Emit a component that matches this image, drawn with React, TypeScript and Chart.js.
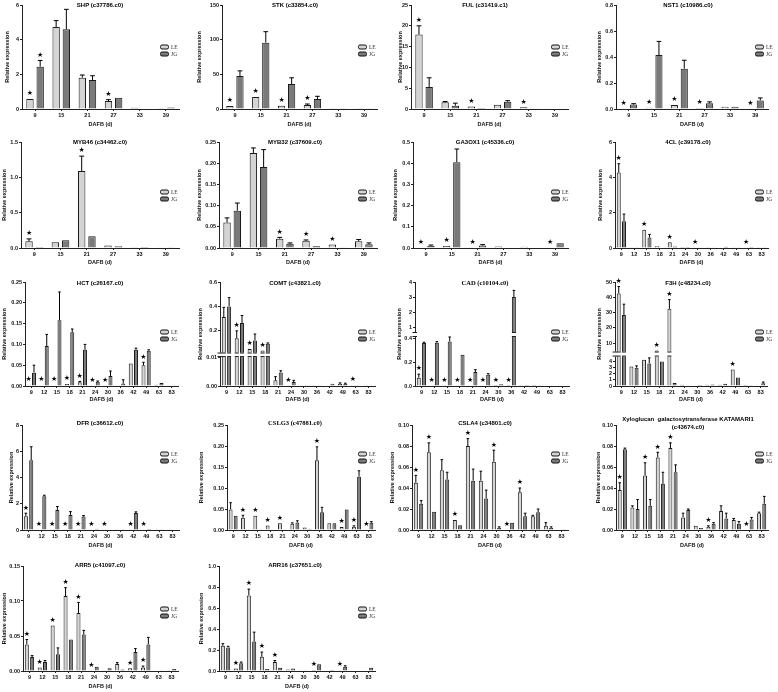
import React, { useEffect, useRef } from 'react';
import { Chart, registerables } from 'chart.js';
Chart.register(...registerables);

// ---------- categories ----------
const DAYS6 = ['9', '15', '21', '27', '33', '39'];
const DAYS12 = ['9', '12', '15', '18', '21', '24', '30', '36', '42', '49', '63', '83'];
const NO_STAR6 = [0, 0, 0, 0, 0, 0];
const NO_STAR12 = [0, 0, 0, 0, 0, 0, 0, 0, 0, 0, 0, 0];

// ---------- SHP ----------
const SHP_LE = [0.58, 4.73, 1.81, 0.46, 0.07, 0.04];
const SHP_LE_SD = [0.04, 0.37, 0.15, 0.08, 0.01, 0.01];
const SHP_JG = [2.44, 4.6, 1.67, 0.65, 0.03, 0.08];
const SHP_JG_SD = [0.36, 1.15, 0.25, 0.04, 0.01, 0.01];
const SHP_LE_STAR = [1, 0, 0, 1, 0, 0];
const SHP_JG_STAR = [1, 0, 0, 0, 0, 0];
const SHP_TICKS = [0, 2, 4, 6];
const SHP_TICK_LABELS = ['0', '2', '4', '6'];

// ---------- STK ----------
const STK_LE = [4.3, 17.3, 4.8, 5.8, 1.0, 0.5];
const STK_LE_SD = [1.0, 1.0, 1.0, 1.4, 0.2, 0.1];
const STK_JG = [47.6, 95.7, 36, 14.4, 0.5, 0.5];
const STK_JG_SD = [7.4, 15.8, 9, 3.9, 0.1, 0.1];
const STK_LE_STAR = [1, 1, 1, 1, 0, 0];
const STK_TICKS = [0, 50, 100, 150];
const STK_TICK_LABELS = ['0', '50', '100', '150'];

// ---------- FUL ----------
const FUL_LE = [17.9, 1.6, 0.6, 1.05, 0.4, 0.05];
const FUL_LE_SD = [2.1, 0.2, 0.1, 0.15, 0.15, 0.01];
const FUL_JG = [5.3, 0.8, 0.25, 1.75, 0.05, 0.15];
const FUL_JG_SD = [2.2, 0.6, 0.05, 0.25, 0.01, 0.03];
const FUL_LE_STAR = [1, 0, 1, 0, 1, 0];
const FUL_TICKS = [0, 5, 10, 15, 20, 25];
const FUL_TICK_LABELS = ['0', '5', '10', '15', '20', '25'];

// ---------- NST1 ----------
const NST1_LE = [0.003, 0.01, 0.03, 0.008, 0.018, 0.003];
const NST1_LE_SD = [0.001, 0.004, 0.002, 0.002, 0.003, 0.001];
const NST1_JG = [0.034, 0.415, 0.31, 0.045, 0.018, 0.065];
const NST1_JG_SD = [0.007, 0.105, 0.065, 0.01, 0.002, 0.02];
const NST1_LE_STAR = [1, 1, 1, 1, 0, 1];
const NST1_TICKS = [0, 0.2, 0.4, 0.6, 0.8];
const NST1_TICK_LABELS = ['0.0', '0.2', '0.4', '0.6', '0.8'];

// ---------- MYB46 ----------
const MYB46_LE = [0.094, 0.08, 1.09, 0.035, 0.01, 0.003];
const MYB46_LE_SD = [0.035, 0.01, 0.21, 0.005, 0.002, 0.001];
const MYB46_JG = [0.015, 0.11, 0.165, 0.025, 0.015, 0.005];
const MYB46_JG_SD = [0.003, 0.01, 0.008, 0.004, 0.003, 0.001];
const MYB46_LE_STAR = [1, 0, 1, 0, 0, 0];
const MYB46_TICKS = [0, 0.5, 1.0, 1.5];
const MYB46_TICK_LABELS = ['0.0', '0.5', '1.0', '1.5'];

// ---------- MYB32 ----------
const MYB32_LE = [0.06, 0.224, 0.022, 0.017, 0.008, 0.016];
const MYB32_LE_SD = [0.011, 0.012, 0.003, 0.002, 0.001, 0.004];
const MYB32_JG = [0.088, 0.191, 0.01, 0.004, 0.0005, 0.009];
const MYB32_JG_SD = [0.018, 0.041, 0.002, 0.001, 0, 0.003];
const MYB32_LE_STAR = [0, 0, 1, 1, 1, 0];
const MYB32_TICKS = [0, 0.05, 0.1, 0.15, 0.2, 0.25];
const MYB32_TICK_LABELS = ['0.00', '0.05', '0.10', '0.15', '0.20', '0.25'];

// ---------- GA3OX1 ----------
const GA3_LE = [0.002, 0.01, 0.002, 0.007, 0.006, 0.002];
const GA3_LE_SD = [0.001, 0.003, 0.001, 0.002, 0.002, 0.001];
const GA3_JG = [0.01, 0.405, 0.012, 0.002, 0.002, 0.022];
const GA3_JG_SD = [0.004, 0.062, 0.004, 0.001, 0.001, 0.003];
const GA3_LE_STAR = [1, 1, 1, 0, 0, 1];
const GA3_TICKS = [0, 0.1, 0.2, 0.3, 0.4, 0.5];
const GA3_TICK_LABELS = ['0.0', '0.1', '0.2', '0.3', '0.4', '0.5'];

// ---------- 4CL ----------
const CL4_LE = [4.27, 0.02, 1.03, 0.1, 0.32, 0.06, 0.03, 0.02, 0.03, 0.02, 0.01, 0.04];
const CL4_LE_SD = [0.5, 0.01, 0.03, 0.02, 0.03, 0.01, 0.01, 0.01, 0.01, 0.01, 0.01, 0.01];
const CL4_JG = [1.52, 0.04, 0.59, 0.03, 0.08, 0.06, 0.01, 0.01, 0.07, 0.02, 0.05, 0.02];
const CL4_JG_SD = [0.4, 0.01, 0.18, 0.01, 0.03, 0.01, 0.005, 0.005, 0.03, 0.005, 0.01, 0.005];
const CL4_LE_STAR = [1, 0, 1, 0, 1, 0, 1, 0, 0, 0, 1, 0];
const CL4_TICKS = [0, 2, 4, 6];
const CL4_TICK_LABELS = ['0', '2', '4', '6'];

// ---------- HCT ----------
const HCT_LE = [0.002, 0.002, 0.002, 0.005, 0.009, 0.0005, 0.0005, 0.001, 0.054, 0.05, 0.003, 0.001];
const HCT_LE_SD = [0.001, 0.001, 0.001, 0.001, 0.002, 0, 0, 0.001, 0, 0.007, 0.001, 0.001];
const HCT_JG = [0.032, 0.096, 0.158, 0.129, 0.087, 0.01, 0.024, 0.006, 0.087, 0.085, 0.007, 0.002];
const HCT_JG_SD = [0.018, 0.028, 0.068, 0.008, 0.013, 0.002, 0.012, 0.009, 0.004, 0.002, 0.001, 0.001];
const HCT_LE_STAR = [1, 1, 1, 1, 1, 1, 1, 0, 0, 1, 0, 0];
const HCT_TICKS = [0, 0.05, 0.1, 0.15, 0.2, 0.25];
const HCT_TICK_LABELS = ['0.00', '0.05', '0.10', '0.15', '0.20', '0.25'];

// ---------- COMT (broken axis) ----------
const COMT_LE = [0.312, 0.139, 0.05, 0.037, 0.002, 0.0001, 0.0002, 0.0001, 0.0002, 0.0007, 0.0003, 0.0001];
const COMT_LE_SD = [0.08, 0.06, 0.004, 0.002, 0.0013, 0, 0, 0, 0, 0.0004, 0, 0];
const COMT_JG = [0.4, 0.264, 0.12, 0.093, 0.0048, 0.0014, 0.0001, 0.0002, 0.0008, 0.0007, 0.0001, 0];
const COMT_JG_SD = [0.072, 0.061, 0.053, 0.007, 0.0006, 0.0006, 0, 0, 0.0002, 0.0003, 0, 0];
const COMT_LE_STAR = [0, 1, 1, 1, 0, 1, 0, 0, 0, 0, 1, 0];
const COMT_TICKS = [0, 0.01, 0.2, 0.4, 0.6];
const COMT_TICK_LABELS = ['0.00', '0.01', '0.2', '0.4', '0.6'];

// ---------- CAD (broken axis) ----------
const CAD_LE = [0.07, 0.002, 0.003, 0.002, 0.002, 0.002, 0.001, 0.001, 0.003, 0.001, 0, 0];
const CAD_LE_SD = [0.03, 0.001, 0.001, 0.001, 0.001, 0.001, 0, 0, 0.001, 0, 0, 0];
const CAD_JG = [0.363, 0.366, 0.377, 0.265, 0.118, 0.096, 0.015, 3.0, 0.001, 0.006, 0, 0];
const CAD_JG_SD = [0.007, 0.009, 0.037, 0.005, 0.02, 0.008, 0.005, 0.44, 0, 0.002, 0, 0];
const CAD_LE_STAR = [1, 1, 1, 1, 1, 1, 1, 1, 0, 0, 0, 0];
const CAD_TICKS = [0, 0.2, 0.4, 1, 2, 3, 4];
const CAD_TICK_LABELS = ['0.0', '0.2', '0.4', '1', '2', '3', '4'];

// ---------- F3H (broken axis) ----------
const F3H_LE = [42.5, 3.2, 4.3, 5.2, 32.5, 0.2, 0.1, 0.2, 0.2, 2.7, 0.02, 0.1];
const F3H_LE_SD = [4.5, 0.1, 0.1, 0, 6, 0.05, 0.03, 0.1, 0.05, 0.1, 0, 0.03];
const F3H_JG = [28.5, 3.0, 3.7, 4.0, 0.5, 0.1, 0.15, 0.25, 0.35, 1.4, 0.05, 0.45];
const F3H_JG_SD = [7, 0.3, 0.9, 0.1, 0.1, 0.02, 0.03, 0.05, 0.1, 0.1, 0.01, 0.2];
const F3H_LE_STAR = [1, 0, 0, 1, 1, 0, 0, 0, 0, 1, 0, 0];
const F3H_TICKS = [0, 1, 2, 3, 4, 10, 20, 30, 40, 50];
const F3H_TICK_LABELS = ['0', '1', '2', '3', '4', '10', '20', '30', '40', '50'];

// ---------- DFR ----------
const DFR_LE = [1.05, 0.03, 0.06, 0.02, 0.02, 0.01, 0.01, 0.02, 0.02, 0.01, 0.02, 0.05];
const DFR_LE_SD = [0.23, 0.01, 0.01, 0.01, 0.01, 0, 0, 0.01, 0.01, 0, 0.01, 0.02];
const DFR_JG = [5.32, 2.58, 1.53, 1.15, 1.02, 0.1, 0.03, 0.02, 1.3, 0.08, 0.02, 0.03];
const DFR_JG_SD = [1.02, 0.07, 0.26, 0.25, 0.08, 0.02, 0.01, 0.01, 0.08, 0.02, 0.01, 0.01];
const DFR_LE_STAR = [1, 1, 1, 1, 1, 1, 1, 0, 1, 1, 0, 0];
const DFR_TICKS = [0, 2, 4, 6, 8];
const DFR_TICK_LABELS = ['0', '2', '4', '6', '8'];

// ---------- CSLG3 ----------
const CSLG3_LE = [0.049, 0.029, 0.034, 0.011, 0.016, 0.015, 0.006, 0.166, 0.016, 0.007, 0.008, 0.001];
const CSLG3_LE_SD = [0.016, 0.006, 0.001, 0.001, 0.001, 0.002, 0.001, 0.032, 0.001, 0.001, 0.002, 0];
const CSLG3_JG = [0.034, 0.0005, 0.002, 0.001, 0.002, 0.018, 0.003, 0.042, 0.016, 0.049, 0.127, 0.017];
const CSLG3_JG_SD = [0.001, 0, 0, 0, 0, 0.004, 0, 0.012, 0.001, 0.001, 0.014, 0.003];
const CSLG3_LE_STAR = [0, 1, 1, 1, 1, 0, 0, 1, 0, 1, 1, 1];
const CSLG3_TICKS = [0, 0.05, 0.1, 0.15, 0.2, 0.25];
const CSLG3_TICK_LABELS = ['0.00', '0.05', '0.10', '0.15', '0.20', '0.25'];

// ---------- CSLA4 ----------
const CSLA4_LE = [0.045, 0.074, 0.057, 0.0095, 0.08, 0.047, 0.065, 0.0005, 0.036, 0.013, 0.004, 0.0005];
const CSLA4_LE_SD = [0.007, 0.009, 0.01, 0.0003, 0.007, 0.009, 0.011, 0, 0.004, 0.001, 0.003, 0];
const CSLA4_JG = [0.025, 0.0175, 0.048, 0.0045, 0.047, 0.03, 0.002, 0.007, 0.013, 0.017, 0.002, 0.0003];
const CSLA4_JG_SD = [0.003, 0.0005, 0.007, 0.0005, 0.011, 0.008, 0.001, 0.0005, 0.003, 0.003, 0.001, 0];
const CSLA4_LE_STAR = [1, 1, 0, 1, 1, 0, 1, 1, 1, 0, 0, 0];
const CSLA4_TICKS = [0, 0.02, 0.04, 0.06, 0.08, 0.1];
const CSLA4_TICK_LABELS = ['0.00', '0.02', '0.04', '0.06', '0.08', '0.10'];

// ---------- Xyloglucan galactosytransferase KATAMARI1 ----------
const XYL_LE = [0.038, 0.0215, 0.052, 0.069, 0.078, 0.012, 0.004, 0.003, 0.018, 0.0095, 0.0005, 0.016];
const XYL_LE_SD = [0.007, 0.0015, 0.012, 0.005, 0.005, 0.004, 0.0005, 0.001, 0.005, 0.0015, 0, 0.001];
const XYL_JG = [0.077, 0.02, 0.023, 0.044, 0.055, 0.019, 0.002, 0.006, 0.011, 0.006, 0.01, 0.025];
const XYL_JG_SD = [0.001, 0.009, 0.006, 0.011, 0.007, 0.001, 0.0005, 0.001, 0.005, 0.002, 0.002, 0.007];
const XYL_LE_STAR = [1, 0, 1, 1, 1, 0, 0, 1, 0, 0, 1, 0];
const XYL_TICKS = [0, 0.02, 0.04, 0.06, 0.08, 0.1];
const XYL_TICK_LABELS = ['0.00', '0.02', '0.04', '0.06', '0.08', '0.10'];

// ---------- ARR5 ----------
const ARR5_LE = [0.038, 0.005, 0.065, 0.107, 0.083, 0.001, 0.001, 0.01, 0.004, 0.005, 0, 0.001];
const ARR5_LE_SD = [0.007, 0.001, 0.001, 0.012, 0.015, 0, 0, 0.002, 0.001, 0.002, 0, 0];
const ARR5_JG = [0.02, 0.013, 0.024, 0.045, 0.052, 0.006, 0.004, 0.002, 0.027, 0.038, 0.001, 0.003];
const ARR5_JG_SD = [0.002, 0.002, 0.009, 0.001, 0.006, 0.001, 0.001, 0, 0.005, 0.01, 0, 0.001];
const ARR5_LE_STAR = [1, 1, 1, 1, 1, 1, 0, 0, 1, 1, 0, 0];
const ARR5_TICKS = [0, 0.05, 0.1, 0.15];
const ARR5_TICK_LABELS = ['0.00', '0.05', '0.10', '0.15'];

// ---------- ARR16 ----------
const ARR16_LE = [0.24, 0.025, 0.72, 0.135, 0.085, 0.015, 0.003, 0.01, 0.005, 0.008, 0, 0.005];
const ARR16_LE_SD = [0.02, 0.005, 0.06, 0.045, 0.015, 0.002, 0, 0.002, 0, 0.002, 0, 0];
const ARR16_JG = [0.225, 0.075, 0.28, 0.02, 0.03, 0.025, 0.003, 0.065, 0.001, 0.04, 0, 0.03];
const ARR16_JG_SD = [0.01, 0.01, 0.09, 0.002, 0.005, 0.005, 0, 0.005, 0, 0.01, 0, 0.005];
const ARR16_LE_STAR = [0, 1, 1, 1, 1, 0, 0, 1, 0, 1, 0, 0];
const ARR16_TICKS = [0, 0.2, 0.4, 0.6, 0.8, 1.0];
const ARR16_TICK_LABELS = ['0.0', '0.2', '0.4', '0.6', '0.8', '1.0'];

// ---------- broken-axis transforms ----------
type Brk = { lowMax: number; lowK: number; upB: number; upK: number; gapLo: number; gapHi: number };
const COMT_BRK: Brk = { lowMax: 0.01, lowK: 8700, upB: 95, upK: 375, gapLo: 89, gapHi: 103 };
const CAD_BRK: Brk = { lowMax: 0.42, lowK: 355, upB: 132, upK: 45, gapLo: 147, gapHi: 162 };
const F3H_BRK: Brk = { lowMax: 4.8, lowK: 18.25, upB: 82, upK: 4.575, gapLo: 88, gapHi: 103 };

type Spec = {
  title: string[]; serif?: boolean; cats: string[];
  le: number[]; leSd: number[]; jg: number[]; jgSd: number[];
  leStar: number[]; jgStar: number[]; ticks: number[]; tickLabels: string[]; brk?: Brk;
};

const SPECS: Spec[] = [
  { title: ['SHP (c37786.c0)'], cats: DAYS6, le: SHP_LE, leSd: SHP_LE_SD, jg: SHP_JG, jgSd: SHP_JG_SD, leStar: SHP_LE_STAR, jgStar: SHP_JG_STAR, ticks: SHP_TICKS, tickLabels: SHP_TICK_LABELS },
  { title: ['STK (c33854.c0)'], cats: DAYS6, le: STK_LE, leSd: STK_LE_SD, jg: STK_JG, jgSd: STK_JG_SD, leStar: STK_LE_STAR, jgStar: NO_STAR6, ticks: STK_TICKS, tickLabels: STK_TICK_LABELS },
  { title: ['FUL (c31419.c1)'], cats: DAYS6, le: FUL_LE, leSd: FUL_LE_SD, jg: FUL_JG, jgSd: FUL_JG_SD, leStar: FUL_LE_STAR, jgStar: NO_STAR6, ticks: FUL_TICKS, tickLabels: FUL_TICK_LABELS },
  { title: ['NST1 (c10986.c0)'], cats: DAYS6, le: NST1_LE, leSd: NST1_LE_SD, jg: NST1_JG, jgSd: NST1_JG_SD, leStar: NST1_LE_STAR, jgStar: NO_STAR6, ticks: NST1_TICKS, tickLabels: NST1_TICK_LABELS },
  { title: ['MYB46 (c34462.c0)'], cats: DAYS6, le: MYB46_LE, leSd: MYB46_LE_SD, jg: MYB46_JG, jgSd: MYB46_JG_SD, leStar: MYB46_LE_STAR, jgStar: NO_STAR6, ticks: MYB46_TICKS, tickLabels: MYB46_TICK_LABELS },
  { title: ['MYB32 (c37609.c0)'], cats: DAYS6, le: MYB32_LE, leSd: MYB32_LE_SD, jg: MYB32_JG, jgSd: MYB32_JG_SD, leStar: MYB32_LE_STAR, jgStar: NO_STAR6, ticks: MYB32_TICKS, tickLabels: MYB32_TICK_LABELS },
  { title: ['GA3OX1 (c45336.c0)'], cats: DAYS6, le: GA3_LE, leSd: GA3_LE_SD, jg: GA3_JG, jgSd: GA3_JG_SD, leStar: GA3_LE_STAR, jgStar: NO_STAR6, ticks: GA3_TICKS, tickLabels: GA3_TICK_LABELS },
  { title: ['4CL (c39178.c0)'], cats: DAYS12, le: CL4_LE, leSd: CL4_LE_SD, jg: CL4_JG, jgSd: CL4_JG_SD, leStar: CL4_LE_STAR, jgStar: NO_STAR12, ticks: CL4_TICKS, tickLabels: CL4_TICK_LABELS },
  { title: ['HCT (c26167.c0)'], cats: DAYS12, le: HCT_LE, leSd: HCT_LE_SD, jg: HCT_JG, jgSd: HCT_JG_SD, leStar: HCT_LE_STAR, jgStar: NO_STAR12, ticks: HCT_TICKS, tickLabels: HCT_TICK_LABELS },
  { title: ['COMT (c43821.c0)'], cats: DAYS12, le: COMT_LE, leSd: COMT_LE_SD, jg: COMT_JG, jgSd: COMT_JG_SD, leStar: COMT_LE_STAR, jgStar: NO_STAR12, ticks: COMT_TICKS, tickLabels: COMT_TICK_LABELS, brk: COMT_BRK },
  { title: ['CAD (c10104.c0)'], serif: true, cats: DAYS12, le: CAD_LE, leSd: CAD_LE_SD, jg: CAD_JG, jgSd: CAD_JG_SD, leStar: CAD_LE_STAR, jgStar: NO_STAR12, ticks: CAD_TICKS, tickLabels: CAD_TICK_LABELS, brk: CAD_BRK },
  { title: ['F3H (c48234.c0)'], cats: DAYS12, le: F3H_LE, leSd: F3H_LE_SD, jg: F3H_JG, jgSd: F3H_JG_SD, leStar: F3H_LE_STAR, jgStar: NO_STAR12, ticks: F3H_TICKS, tickLabels: F3H_TICK_LABELS, brk: F3H_BRK },
  { title: ['DFR (c36612.c0)'], cats: DAYS12, le: DFR_LE, leSd: DFR_LE_SD, jg: DFR_JG, jgSd: DFR_JG_SD, leStar: DFR_LE_STAR, jgStar: NO_STAR12, ticks: DFR_TICKS, tickLabels: DFR_TICK_LABELS },
  { title: ['CSLG3 (c47881.c0)'], serif: true, cats: DAYS12, le: CSLG3_LE, leSd: CSLG3_LE_SD, jg: CSLG3_JG, jgSd: CSLG3_JG_SD, leStar: CSLG3_LE_STAR, jgStar: NO_STAR12, ticks: CSLG3_TICKS, tickLabels: CSLG3_TICK_LABELS },
  { title: ['CSLA4 (c34801.c0)'], cats: DAYS12, le: CSLA4_LE, leSd: CSLA4_LE_SD, jg: CSLA4_JG, jgSd: CSLA4_JG_SD, leStar: CSLA4_LE_STAR, jgStar: NO_STAR12, ticks: CSLA4_TICKS, tickLabels: CSLA4_TICK_LABELS },
  { title: ['Xyloglucan  galactosytransferase KATAMARI1', '(c43674.c0)'], cats: DAYS12, le: XYL_LE, leSd: XYL_LE_SD, jg: XYL_JG, jgSd: XYL_JG_SD, leStar: XYL_LE_STAR, jgStar: NO_STAR12, ticks: XYL_TICKS, tickLabels: XYL_TICK_LABELS },
  { title: ['ARR5 (c41097.c0)'], cats: DAYS12, le: ARR5_LE, leSd: ARR5_LE_SD, jg: ARR5_JG, jgSd: ARR5_JG_SD, leStar: ARR5_LE_STAR, jgStar: NO_STAR12, ticks: ARR5_TICKS, tickLabels: ARR5_TICK_LABELS },
  { title: ['ARR16 (c37651.c0)'], cats: DAYS12, le: ARR16_LE, leSd: ARR16_LE_SD, jg: ARR16_JG, jgSd: ARR16_JG_SD, leStar: ARR16_LE_STAR, jgStar: NO_STAR12, ticks: ARR16_TICKS, tickLabels: ARR16_TICK_LABELS },
];

// ---------- layout (absolute page pixels) ----------
const COL_X = [0, 195, 390, 585];
const CANVAS_W = 193;
const TITLE_X = [100, 295, 485, 688];
const LEGEND_X = [160, 358, 551, 755];
const ROWS = [
  { top: 0, plotTop: 5, axis: 109, dafb: 124, titleY: 5, legY: 47 },
  { top: 135, plotTop: 142, axis: 248, dafb: 262, titleY: 142, legY: 192 },
  { top: 270, plotTop: 282, axis: 386, dafb: 399, titleY: 283, legY: 332 },
  { top: 405, plotTop: 425, axis: 530, dafb: 545, titleY: 423, legY: 454 },
  { top: 545, plotTop: 566, axis: 671, dafb: 686, titleY: 565, legY: 609 },
];
// [plotLeft, yTitleX, plotRight]
const PANEL_X = [
  [22, 8, 179], [222, 200, 377], [411, 401, 568], [616, 600, 768],
  [21, 5, 179], [219, 200, 377], [413, 396, 568], [615, 601, 768],
  [25, 5, 178], [220, 201, 375], [415, 400, 569], [615, 600, 767],
  [22, 12, 179], [227, 202, 375], [412, 393, 568], [616, 599, 768],
  [23, 5, 178], [219, 202, 375],
];

const LE_FILL = '#d4d4d4';
const JG_FILL = '#7a7a7a';
const SANS = '"Liberation Sans", Arial, sans-serif';
const SERIF = '"Liberation Serif", "Times New Roman", serif';

function Panel({ spec, idx }: { spec: Spec; idx: number }) {
  const ref = useRef<HTMLCanvasElement>(null);
  const col = idx % 4;
  const row = ROWS[Math.floor(idx / 4)];
  const cl = COL_X[col];
  const H = Math.min(Math.round(row.dafb - row.top + 6), 692 - row.top);
  const [plotLeft, yTitleX, plotRight] = PANEL_X[idx];

  useEffect(() => {
    const brk = spec.brk;
    const T = (v: number) => (!brk ? v : v <= brk.lowMax ? v * brk.lowK : brk.upB + v * brk.upK);
    const tickT = spec.ticks.map(T);
    const yMax = tickT[tickT.length - 1];
    const padLeft = yTitleX - cl - 3.6;
    const yW = plotLeft - cl - padLeft;
    const xH = H - (row.axis - row.top);
    const titleBottomPad = H - (row.dafb - row.top) - 3.3;
    const many = spec.cats.length > 6;
    const barOpts = {
      borderColor: '#1a1a1a', borderWidth: 1,
      categoryPercentage: many ? 0.82 : 0.78, barPercentage: many ? 0.76 : 0.72,
    };
    const series = [
      { v: spec.le, sd: spec.leSd, star: spec.leStar },
      { v: spec.jg, sd: spec.jgSd, star: spec.jgStar },
    ];

    const decor = {
      id: 'decor',
      afterDatasetsDraw(chart: any) {
        const ctx = chart.ctx;
        const ys = chart.scales.y;
        const ca = chart.chartArea;
        ctx.save();
        if (brk) {
          const yA = ys.getPixelForValue(brk.gapHi);
          const yB = ys.getPixelForValue(brk.gapLo);
          ctx.fillStyle = '#ffffff';
          ctx.fillRect(ca.left - 2, yA, ca.right - ca.left + 3, yB - yA);
          ctx.strokeStyle = '#1a1a1a';
          ctx.lineWidth = 1;
          series.forEach((_, i) => {
            const meta = chart.getDatasetMeta(i);
            meta.data.forEach((el: any) => {
              const w = el.width;
              if (el.y < yB) {
                ctx.beginPath();
                ctx.moveTo(el.x - w / 2, yB - 0.5);
                ctx.lineTo(el.x + w / 2, yB - 0.5);
                ctx.stroke();
                if (el.y < yA) {
                  ctx.beginPath();
                  ctx.moveTo(el.x - w / 2, yA + 0.5);
                  ctx.lineTo(el.x + w / 2, yA + 0.5);
                  ctx.stroke();
                }
              }
            });
          });
          ctx.beginPath();
          ctx.moveTo(ca.left - 2.5, yA + 0.5); ctx.lineTo(ca.left + 2, yA + 0.5);
          ctx.moveTo(ca.left - 2.5, yB - 0.5); ctx.lineTo(ca.left + 2, yB - 0.5);
          ctx.stroke();
        }
        // error bars + stars
        ctx.strokeStyle = '#000';
        ctx.fillStyle = '#000';
        ctx.lineWidth = 1;
        ctx.font = `7px "DejaVu Sans", sans-serif`;
        ctx.textAlign = 'center';
        ctx.textBaseline = 'middle';
        series.forEach((s, i) => {
          const meta = chart.getDatasetMeta(i);
          meta.data.forEach((el: any, j: number) => {
            const v = s.v[j];
            const sd = s.sd[j];
            let top = el.y;
            if (sd > 0) {
              const yE = ys.getPixelForValue(T(v + sd));
              if (yE < el.y - 0.8) {
                const cw = el.width * 0.65;
                ctx.beginPath();
                ctx.moveTo(el.x, el.y);
                ctx.lineTo(el.x, yE);
                ctx.moveTo(el.x - cw / 2, yE);
                ctx.lineTo(el.x + cw / 2, yE);
                ctx.stroke();
                top = yE;
              }
            }
            if (s.star[j]) {
              ctx.fillText('★', el.x, Math.min(top, el.y) - 5.5);
            }
          });
        });
        ctx.restore();
      },
      afterDraw(chart: any) {
        const ctx = chart.ctx;
        ctx.save();
        // title
        ctx.fillStyle = '#000';
        ctx.textAlign = 'center';
        ctx.textBaseline = 'middle';
        ctx.font = spec.serif ? `bold 6.5px ${SERIF}` : `bold 6px ${SANS}`;
        const tx = TITLE_X[col] - cl;
        const n = spec.title.length;
        spec.title.forEach((line, k) => {
          const ty = row.titleY - row.top + (k - (n - 1) / 2) * 8;
          ctx.fillText(line, tx, ty);
        });
        // legend
        const lx = LEGEND_X[col] - cl;
        const names = ['LE', 'JG'];
        const fills = [LE_FILL, JG_FILL];
        names.forEach((nm, k) => {
          const ly = row.legY - row.top + k * 7;
          ctx.beginPath();
          ctx.roundRect(lx + 0.5, ly - 2, 8, 4, 1.5);
          ctx.fillStyle = fills[k];
          ctx.fill();
          ctx.strokeStyle = '#111';
          ctx.lineWidth = 1;
          ctx.stroke();
          ctx.fillStyle = '#333';
          ctx.textAlign = 'left';
          ctx.font = `5.5px ${SERIF}`;
          ctx.fillText(nm, lx + 11, ly + 0.3);
        });
        ctx.restore();
      },
    };

    const tickFont = { family: SANS, size: 5.5, weight: 'bold' as const };
    const chart = new Chart(ref.current as HTMLCanvasElement, {
      type: 'bar',
      data: {
        labels: spec.cats,
        datasets: [
          { label: 'LE', data: spec.le.map(T), backgroundColor: LE_FILL, ...barOpts },
          { label: 'JG', data: spec.jg.map(T), backgroundColor: JG_FILL, ...barOpts },
        ],
      },
      options: {
        animation: false,
        responsive: false,
        devicePixelRatio: 1,
        events: [],
        layout: { padding: { left: padLeft, top: row.plotTop - row.top, right: CANVAS_W - (plotRight - cl), bottom: 0 } },
        plugins: { legend: { display: false }, tooltip: { enabled: false }, title: { display: false } },
        scales: {
          x: {
            type: 'category',
            grid: { display: true, drawOnChartArea: false, drawTicks: true, tickLength: 2, color: '#222', offset: false },
            border: { display: true, color: '#222', width: 1 },
            ticks: { font: tickFont, color: '#111', padding: 1.5, maxRotation: 0, autoSkip: false },
            title: { display: true, text: 'DAFB (d)', font: { family: SANS, size: 5.5, weight: 'bold' }, color: '#111', padding: { top: 0, bottom: titleBottomPad } },
            afterFit: (s: any) => { s.height = xH; },
          },
          y: {
            type: 'linear',
            min: 0,
            max: yMax,
            grid: { display: true, drawOnChartArea: false, drawTicks: true, tickLength: 2, color: '#222' },
            border: { display: true, color: '#222', width: 1 },
            afterBuildTicks: (s: any) => { s.ticks = tickT.map((v) => ({ value: v })); },
            ticks: {
              font: tickFont, color: '#111', padding: 1, autoSkip: false,
              callback: (_v: any, i: number) => spec.tickLabels[i],
            },
            title: { display: true, text: 'Relative expression', font: { family: SANS, size: 5.5, weight: 'bold' }, color: '#111', padding: { top: 0, bottom: 0 } },
            afterFit: (s: any) => { s.width = yW; },
          },
        },
      },
      plugins: [decor],
    } as any);
    return () => chart.destroy();
  }, []);

  return (
    <canvas
      ref={ref}
      width={CANVAS_W}
      height={H}
      style={{ position: 'absolute', left: cl, top: row.top, width: CANVAS_W, height: H }}
    />
  );
}

export default function App() {
  return (
    <div style={{ position: 'absolute', left: 0, top: 0, width: 778, height: 692, background: '#fff', overflow: 'hidden' }}>
      {SPECS.map((s, i) => (
        <Panel key={i} spec={s} idx={i} />
      ))}
    </div>
  );
}
